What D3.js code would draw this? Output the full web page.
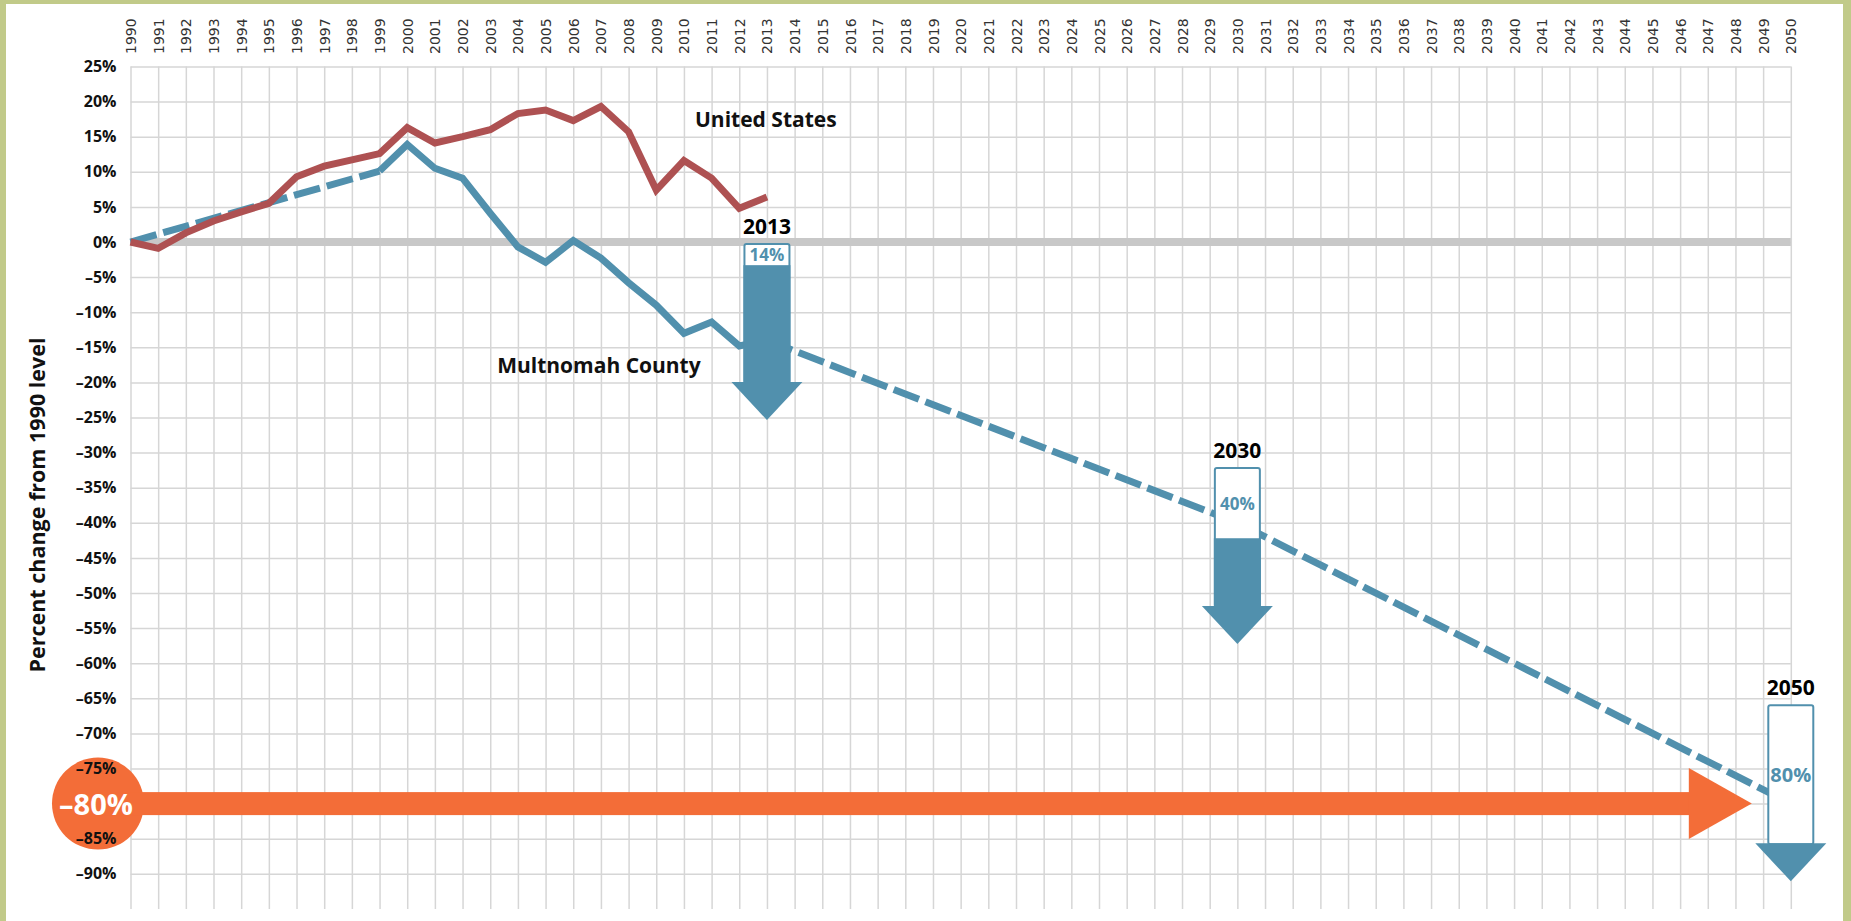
<!DOCTYPE html>
<html>
<head>
<meta charset="utf-8">
<script src="https://cdn.jsdelivr.net/npm/d3@7"></script>
<style>
  body { margin: 0; background: #fff; }
  svg { display: block; }
</style>
</head>
<body>
<div class="canvas"></div>
<script>
// years on the x axis and percent ticks on the y axis
const years = d3.range(1990, 2051);
const yTicks = d3.range(-90, 26, 5);

// United States, % change from 1990
const usYears = d3.range(1990, 2014);
const usValues = [0, -0.9, 1.3, 3.0, 4.3, 5.5, 9.3, 10.8, 11.7, 12.6, 16.3, 14.1,
  15.0, 16.0, 18.3, 18.8, 17.3, 19.3, 15.7, 7.4, 11.6, 9.1, 4.8, 6.4];

// Multnomah County, % change from 1990
const mcEarlyYears = [1990, 1999];
const mcEarlyValues = [0, 10.1];
const mcYears = d3.range(1999, 2014);
const mcValues = [10.1, 13.9, 10.5, 9.1, 4.1, -0.7, -2.9, 0.2, -2.3, -5.8, -9.0,
  -13.0, -11.4, -14.8, -14.0];

// targets (projection) and the arrow annotations
const targetYears = [2013, 2030, 2050];
const targetValues = [-14, -40, -80];
const targetLabels = ['14%', '40%', '80%'];
const arrowTops = [-0.3, -32.2, -66];
const arrowFills = [-3.3, -42.2, null];
const goal = -80;

const blue = '#5190ad';
const red = '#ae5152';
const orange = '#f36d38';
const green = '#c1ca89';
const labelFont = '"Open Sans", sans-serif';

const svg = d3.select('.canvas')
  .append('svg')
  .attr('width', 1851)
  .attr('height', 921);

// frame
svg.append('rect').attr('x', 0).attr('y', 0).attr('width', 6).attr('height', 921).attr('fill', green);
svg.append('rect').attr('x', 0).attr('y', 0).attr('width', 1851).attr('height', 4).attr('fill', green);
svg.append('rect').attr('x', 1843).attr('y', 0).attr('width', 8).attr('height', 921).attr('fill', green);

const x = d3.scaleLinear().domain([1990, 2050]).range([130.5, 1790.8]);
const y = d3.scaleLinear().domain([-95, 25]).range([908.9, 66.5]);

// grid
const vGrid = svg.append('g')
  .attr('transform', `translate(0, ${y(-95)})`)
  .call(d3.axisBottom(x).tickValues(years).tickSize(-(y(-95) - y(25))).tickFormat(''));
const hGrid = svg.append('g')
  .attr('transform', `translate(${x(1990)}, 0)`)
  .call(d3.axisLeft(y).tickValues(yTicks).tickSize(-(x(2050) - x(1990))).tickFormat(''));
[vGrid, hGrid].forEach(g => {
  g.select('.domain').remove();
  g.selectAll('line').attr('stroke', '#d6d6d6').attr('stroke-width', 1.5);
});

// zero line
svg.append('line')
  .attr('x1', x(1990)).attr('x2', x(2050))
  .attr('y1', y(0)).attr('y2', y(0))
  .attr('stroke', '#c8c8c8').attr('stroke-width', 8);

// year labels on top
const xAxis = svg.append('g')
  .attr('transform', 'translate(0, 54)')
  .call(d3.axisTop(x).tickValues(years).tickSize(0).tickFormat(d3.format('d')));
xAxis.select('.domain').remove();
xAxis.selectAll('text')
  .attr('transform', 'rotate(-90)')
  .attr('text-anchor', 'start')
  .attr('x', 0).attr('y', 0).attr('dy', '0.36em')
  .attr('fill', '#333')
  .style('font-family', '"DejaVu Sans", sans-serif')
  .style('font-size', '14px');

// orange goal circle (under the tick labels)
const cx0 = x(1990) - 32.5;
svg.append('circle')
  .attr('cx', cx0).attr('cy', y(goal)).attr('r', 46)
  .attr('fill', orange);

// y tick labels
const pct = d => (d < 0 ? '\u2013' : '') + Math.abs(d) + '%';
const yAxis = svg.append('g')
  .attr('transform', `translate(${x(1990)}, 0)`)
  .call(d3.axisLeft(y).tickValues(yTicks).tickSize(0).tickPadding(14)
    .tickFormat(d => d === goal ? '' : pct(d)));
yAxis.select('.domain').remove();
yAxis.selectAll('text')
  .attr('fill', '#111')
  .style('font-family', labelFont)
  .style('font-weight', 700)
  .style('font-size', '16px');

// y title
svg.append('text')
  .attr('transform', 'translate(45, 505) rotate(-90)')
  .attr('text-anchor', 'middle')
  .attr('fill', '#111')
  .style('font-family', labelFont)
  .style('font-weight', 700)
  .style('font-size', '21.5px')
  .text('Percent change from 1990 level');

const line = d3.line().x(d => x(d[0])).y(d => y(d[1]));

// Multnomah County
svg.append('path')
  .datum(d3.zip(mcEarlyYears, mcEarlyValues))
  .attr('d', line)
  .attr('fill', 'none').attr('stroke', blue).attr('stroke-width', 7)
  .attr('stroke-dasharray', '27,7');
svg.append('path')
  .datum(d3.zip(mcYears, mcValues))
  .attr('d', line)
  .attr('fill', 'none').attr('stroke', blue).attr('stroke-width', 7)
  .attr('stroke-linejoin', 'miter');
svg.append('path')
  .datum(d3.zip(targetYears, targetValues))
  .attr('d', line)
  .attr('fill', 'none').attr('stroke', blue).attr('stroke-width', 7)
  .attr('stroke-dasharray', '27,7');

// United States
svg.append('path')
  .datum(d3.zip(usYears, usValues))
  .attr('d', line)
  .attr('fill', 'none').attr('stroke', red).attr('stroke-width', 7)
  .attr('stroke-linejoin', 'miter');

// series labels
svg.append('text')
  .attr('x', x(2010.4)).attr('y', y(16.4))
  .attr('fill', '#111')
  .style('font-family', labelFont).style('font-weight', 700).style('font-size', '21px')
  .text('United States');
svg.append('text')
  .attr('x', x(2003.25)).attr('y', y(-18.66))
  .attr('fill', '#111')
  .style('font-family', labelFont).style('font-weight', 700).style('font-size', '21px')
  .text('Multnomah County');

// target arrows
targetYears.forEach((yr, i) => {
  const cx = x(yr);
  const top = y(arrowTops[i]);
  const headStart = top + 139;
  const tip = headStart + 37;
  const fillStart = arrowFills[i] === null ? headStart : y(arrowFills[i]);
  const g = svg.append('g');
  g.append('rect')
    .attr('x', cx - 22.5).attr('y', top)
    .attr('width', 45).attr('height', headStart - top)
    .attr('rx', 2)
    .attr('fill', '#fff').attr('stroke', blue).attr('stroke-width', 2);
  g.append('rect')
    .attr('x', cx - 23.5).attr('y', fillStart)
    .attr('width', 47).attr('height', headStart - fillStart + 1)
    .attr('fill', blue);
  g.append('polygon')
    .attr('points', [[cx - 35.5, headStart - 1], [cx + 35.5, headStart - 1], [cx, tip]].join(' '))
    .attr('fill', blue);
  g.append('text')
    .attr('x', cx).attr('y', (top + fillStart) / 2)
    .attr('text-anchor', 'middle').attr('dominant-baseline', 'central')
    .attr('fill', blue)
    .style('font-family', labelFont).style('font-weight', 700)
    .style('font-size', i === 2 ? '20px' : '17px')
    .text(targetLabels[i]);
  g.append('text')
    .attr('x', cx).attr('y', top - 10)
    .attr('text-anchor', 'middle')
    .attr('fill', '#000')
    .style('font-family', labelFont).style('font-weight', 700).style('font-size', '21px')
    .text(yr);
});

// orange -80% goal arrow
const baseX = x(2050) - 101;
const tipX = x(2050) - 39;
svg.append('rect')
  .attr('x', cx0).attr('y', y(goal) - 11.5)
  .attr('width', baseX - cx0).attr('height', 23)
  .attr('fill', orange);
svg.append('polygon')
  .attr('points', [[baseX - 1, y(goal) - 35.5], [baseX - 1, y(goal) + 35.5], [tipX, y(goal)]].join(' '))
  .attr('fill', orange);
svg.append('text')
  .attr('x', cx0 - 2).attr('y', y(goal))
  .attr('text-anchor', 'middle').attr('dominant-baseline', 'central')
  .attr('fill', '#fff')
  .style('font-family', labelFont).style('font-weight', 700).style('font-size', '29px')
  .text(pct(goal));
</script>
</body>
</html>
